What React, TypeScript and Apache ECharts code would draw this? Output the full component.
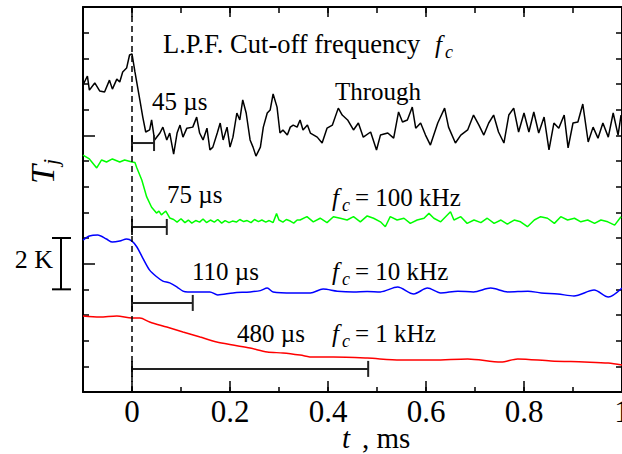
import React, { useEffect, useRef } from 'react';
import * as echarts from 'echarts';

// Junction temperature response T_j (K) vs time t (ms), for different L.P.F. cut-off frequencies
const throughData: [number, number][] = [
  [-0.1, 11.96], [-0.091, 12.31], [-0.087, 11.76], [-0.076, 12.04], [-0.066, 11.73], [-0.056, 11.69],
  [-0.046, 12.15], [-0.04, 11.8], [-0.031, 12.19], [-0.025, 12.08], [-0.019, 12.47], [-0.011, 12.62],
  [-0.005, 13.13], [0.0, 13.17], [0.006, 12.47], [0.016, 11.38], [0.022, 10.71], [0.028, 10.13],
  [0.036, 10.21], [0.04, 10.6], [0.046, 9.82], [0.057, 10.09], [0.063, 10.32], [0.071, 9.82],
  [0.077, 10.09], [0.085, 9.27], [0.092, 10.09], [0.098, 10.4], [0.104, 9.93], [0.112, 10.28],
  [0.124, 10.32], [0.132, 10.71], [0.138, 10.09], [0.145, 9.82], [0.153, 10.28], [0.159, 9.43],
  [0.165, 9.54], [0.174, 10.09], [0.18, 10.48], [0.186, 9.82], [0.194, 10.32], [0.2, 9.54],
  [0.206, 9.93], [0.214, 10.87], [0.22, 10.6], [0.226, 11.38], [0.233, 10.87], [0.241, 9.82],
  [0.247, 9.54], [0.253, 9.19], [0.262, 9.54], [0.268, 10.32], [0.276, 10.87], [0.282, 10.99],
  [0.288, 11.61], [0.296, 11.1], [0.302, 10.09], [0.308, 10.21], [0.317, 10.01], [0.323, 10.32],
  [0.329, 10.4], [0.337, 10.32], [0.343, 10.6], [0.349, 10.21], [0.358, 10.4], [0.364, 10.09],
  [0.378, 9.93], [0.388, 9.7], [0.398, 10.28], [0.409, 10.4], [0.421, 11.06], [0.429, 10.79],
  [0.44, 10.6], [0.452, 10.21], [0.462, 10.48], [0.472, 9.93], [0.487, 10.13], [0.499, 9.43],
  [0.507, 10.01], [0.522, 10.09], [0.534, 9.89], [0.544, 10.91], [0.552, 10.52], [0.562, 10.6],
  [0.572, 11.1], [0.579, 10.28], [0.589, 10.48], [0.599, 10.01], [0.609, 9.62], [0.624, 10.48],
  [0.638, 11.06], [0.646, 10.32], [0.66, 9.7], [0.671, 10.01], [0.685, 10.21], [0.697, 10.79],
  [0.708, 10.4], [0.718, 10.01], [0.728, 10.48], [0.738, 10.79], [0.748, 10.13], [0.759, 9.7],
  [0.769, 10.79], [0.779, 11.06], [0.789, 10.13], [0.8, 10.87], [0.81, 10.13], [0.82, 10.91],
  [0.83, 10.09], [0.841, 10.71], [0.851, 9.43], [0.861, 10.48], [0.871, 10.28], [0.882, 10.79],
  [0.89, 9.51], [0.9, 10.48], [0.91, 10.52], [0.92, 11.22], [0.931, 9.74], [0.941, 10.32],
  [0.951, 9.89], [0.961, 10.48], [0.972, 9.93], [0.982, 10.87], [0.992, 10.01], [0.998, 10.79],
];

const fc100kData: [number, number][] = [
  [-0.1, 9.23], [-0.087, 9.08], [-0.072, 8.73], [-0.062, 9.04], [-0.052, 8.96], [-0.04, 9.08],
  [-0.025, 8.96], [-0.015, 9.04], [0.0, 8.96], [0.006, 8.94], [0.01, 8.73], [0.02, 8.26],
  [0.03, 7.6], [0.04, 7.2], [0.05, 6.97], [0.055, 7.05], [0.06, 6.9], [0.069, 7.05], [0.077, 6.78],
  [0.085, 6.72], [0.092, 6.62], [0.1, 6.75], [0.108, 6.6], [0.115, 6.7], [0.122, 6.58], [0.13, 6.68],
  [0.138, 6.62], [0.145, 6.74], [0.152, 6.6], [0.16, 6.7], [0.168, 6.62], [0.175, 6.72], [0.183, 6.58],
  [0.19, 6.68], [0.198, 6.6], [0.205, 6.66], [0.213, 6.62], [0.22, 6.72], [0.228, 6.64], [0.235, 6.68],
  [0.243, 6.6], [0.25, 6.72], [0.258, 6.64], [0.265, 6.7], [0.273, 6.62], [0.28, 6.68], [0.288, 6.6],
  [0.295, 6.95], [0.3, 6.7], [0.308, 6.62], [0.315, 6.72], [0.323, 6.66], [0.33, 6.58], [0.337, 6.7],
  [0.343, 6.7], [0.357, 6.83], [0.37, 6.63], [0.384, 6.77], [0.398, 6.6], [0.411, 6.83], [0.425, 6.77],
  [0.439, 6.7], [0.452, 6.83], [0.466, 6.63], [0.48, 6.86], [0.493, 6.77], [0.507, 6.63], [0.517, 6.44],
  [0.527, 6.83], [0.541, 6.7], [0.555, 6.77], [0.568, 6.57], [0.582, 6.7], [0.596, 6.77], [0.606, 6.96],
  [0.616, 6.77], [0.63, 6.63], [0.65, 7.02], [0.657, 6.7], [0.671, 6.83], [0.684, 6.57], [0.698, 6.7],
  [0.712, 6.6], [0.725, 6.77], [0.739, 6.57], [0.753, 6.7], [0.766, 6.54], [0.78, 6.7], [0.793, 6.63],
  [0.807, 6.44], [0.821, 6.7], [0.834, 6.83], [0.848, 6.77], [0.862, 6.57], [0.875, 6.83], [0.889, 6.7],
  [0.903, 6.77], [0.916, 6.63], [0.93, 6.7], [0.944, 6.57], [0.957, 6.7], [0.971, 6.63], [0.985, 6.5],
  [0.998, 6.83],
];

const fc10kData: [number, number][] = [
  [-0.1, 5.92], [-0.087, 6.08], [-0.07, 6.12], [-0.052, 5.96], [-0.04, 5.84], [-0.025, 5.88],
  [-0.011, 5.96], [0.0, 5.88], [0.01, 5.65], [0.022, 5.22], [0.036, 4.75], [0.051, 4.48],
  [0.063, 4.32], [0.077, 4.25], [0.092, 4.09], [0.104, 3.93], [0.114, 3.9], [0.139, 3.9],
  [0.159, 3.9], [0.175, 3.78], [0.206, 3.86], [0.241, 3.9], [0.262, 3.95], [0.276, 4.05],
  [0.288, 3.9], [0.329, 3.86], [0.364, 3.86], [0.39, 4.01], [0.419, 3.93], [0.452, 3.9],
  [0.48, 3.92], [0.507, 3.9], [0.542, 4.09], [0.575, 3.82], [0.603, 4.05], [0.63, 3.86],
  [0.665, 3.93], [0.697, 3.9], [0.732, 4.05], [0.767, 3.9], [0.808, 3.93], [0.835, 3.86],
  [0.869, 3.82], [0.902, 3.74], [0.943, 3.97], [0.972, 3.7], [1.0, 4.05],
];

const fc1kData: [number, number][] = [
  [-0.1, 2.96], [-0.066, 2.92], [-0.031, 2.96], [0.0, 2.88], [0.016, 2.88], [0.036, 2.73],
  [0.071, 2.53], [0.104, 2.34], [0.139, 2.14], [0.173, 1.95], [0.206, 1.83], [0.241, 1.71],
  [0.276, 1.56], [0.308, 1.52], [0.343, 1.44], [0.37, 1.36], [0.411, 1.36], [0.48, 1.32],
  [0.548, 1.25], [0.616, 1.25], [0.685, 1.29], [0.753, 1.17], [0.787, 1.29], [0.855, 1.21],
  [0.923, 1.17], [0.972, 1.13], [1.0, 1.05],
];

// delay bars: [start ms, end ms, level K]
const delayBars: [number, number, number][] = [
  [0, 0.045, 9.7],
  [0, 0.071, 6.43],
  [0, 0.124, 3.47],
  [0, 0.482, 0.9],
];

const majorTicks = [0, 0.2, 0.4, 0.6, 0.8, 1];
const scaleBarK: [number, number] = [4, 6];

const FONT = '"Liberation Serif", "Times New Roman", serif';
const ANN = 25;

function txt(text: string, x: number, baseline: number, size = ANN, italic = false, align = 'left') {
  return {
    type: 'text',
    silent: true,
    style: {
      text,
      x,
      y: baseline - 0.3375 * size,
      fill: '#000',
      fontSize: size,
      fontFamily: FONT,
      fontStyle: italic ? 'italic' : 'normal',
      align,
      verticalAlign: 'middle',
    },
  };
}

function fcLabel(rest: string, baseline: number) {
  return [
    txt('f', 332, baseline, ANN, true),
    txt('c', 342, baseline + 5, 18, true),
    txt(rest, 355, baseline),
  ];
}

export default function App() {
  const ref = useRef<HTMLDivElement>(null);

  useEffect(() => {
    document.body.style.margin = '0';
    if (!ref.current) return;
    const chart = echarts.init(ref.current, undefined, { renderer: 'svg' });
    const axisColor = '#000';
    const tickStyle = { color: axisColor, width: 1.5 };

    const lineSeries = (name: string, data: [number, number][], color: string, smooth: number | boolean = false) => ({
      name,
      type: 'line',
      data,
      showSymbol: false,
      symbol: 'none',
      smooth,
      lineStyle: { color, width: 1.5 },
      z: 3,
    });

    chart.setOption({
      animation: false,
      grid: { left: 83, right: 0, top: 7, bottom: 62, containLabel: false, outerBoundsMode: 'none' },
      xAxis: [
        {
          type: 'value', min: -0.1, max: 1, interval: 0.1, position: 'bottom',
          axisLine: { show: true, onZero: false, lineStyle: { color: axisColor, width: 2 } },
          axisTick: { show: true, inside: true, length: 5, lineStyle: tickStyle },
          axisLabel: { show: false }, splitLine: { show: false },
        },
        {
          type: 'value', min: -0.1, max: 1, position: 'bottom',
          axisLine: { show: false, onZero: false },
          axisTick: { show: true, inside: true, length: 11, customValues: majorTicks, lineStyle: tickStyle },
          axisLabel: {
            show: true, customValues: majorTicks, fontFamily: FONT, fontSize: 31, color: '#000', margin: 4,
            hideOverlap: false,
            formatter: (v: number) => String(Math.round(v * 10) / 10),
          },
          splitLine: { show: false },
        },
        {
          type: 'value', min: -0.1, max: 1, interval: 0.1, position: 'top',
          axisLine: { show: true, onZero: false, lineStyle: { color: axisColor, width: 2 } },
          axisTick: { show: true, inside: true, length: 6, lineStyle: tickStyle },
          axisLabel: { show: false }, splitLine: { show: false },
        },
        {
          type: 'value', min: -0.1, max: 1, position: 'top',
          axisLine: { show: false, onZero: false },
          axisTick: { show: true, inside: true, length: 10, customValues: majorTicks, lineStyle: tickStyle },
          axisLabel: { show: false }, splitLine: { show: false },
        },
      ],
      yAxis: [
        {
          type: 'value', min: 0, max: 15, interval: 5, position: 'left',
          axisLine: { show: true, onZero: false, lineStyle: { color: axisColor, width: 2 } },
          axisTick: { show: true, inside: true, length: 12, lineStyle: tickStyle },
          minorTick: { show: true, splitNumber: 5, length: 6, lineStyle: tickStyle },
          axisLabel: { show: false }, splitLine: { show: false }, minorSplitLine: { show: false },
        },
        {
          type: 'value', min: 0, max: 15, interval: 1, position: 'right',
          axisLine: { show: true, onZero: false, lineStyle: { color: axisColor, width: 2 } },
          axisTick: { show: true, inside: true, length: 6, lineStyle: tickStyle },
          axisLabel: { show: false }, splitLine: { show: false },
        },
      ],
      series: [
        {
          ...lineSeries('Through', throughData, '#000000'),
          markLine: {
            silent: true,
            symbol: ['none', 'none'],
            label: { show: false },
            lineStyle: { type: [6, 4], color: '#000', width: 1.5 },
            data: [{ xAxis: 0 }],
          },
        },
        lineSeries('fc = 100 kHz', fc100kData, '#00ff00'),
        lineSeries('fc = 10 kHz', fc10kData, '#0000ff', 0.3),
        lineSeries('fc = 1 kHz', fc1kData, '#ff0000', 0.3),
        {
          type: 'custom',
          name: 'delay',
          data: delayBars,
          encode: { x: [0, 1], y: 2 },
          z: 4,
          renderItem: (_params: any, api: any) => {
            const p0 = api.coord([api.value(0), api.value(2)]);
            const p1 = api.coord([api.value(1), api.value(2)]);
            const h = 8;
            const st = { stroke: '#222', lineWidth: 2 };
            return {
              type: 'group',
              children: [
                { type: 'line', shape: { x1: p0[0], y1: p0[1], x2: p1[0], y2: p1[1] }, style: st },
                { type: 'line', shape: { x1: p0[0], y1: p0[1] - h, x2: p0[0], y2: p0[1] + h }, style: st },
                { type: 'line', shape: { x1: p1[0], y1: p1[1] - h, x2: p1[0], y2: p1[1] + h }, style: st },
              ],
            };
          },
        },
      ],
    });

    const yTop = chart.convertToPixel({ yAxisIndex: 0 }, scaleBarK[1]) as number;
    const yBot = chart.convertToPixel({ yAxisIndex: 0 }, scaleBarK[0]) as number;
    const sb = { stroke: '#000', lineWidth: 2 };

    chart.setOption({
      graphic: [
        // scale bar 2 K
        { type: 'line', silent: true, shape: { x1: 61, y1: yTop, x2: 61, y2: yBot }, style: sb },
        { type: 'line', silent: true, shape: { x1: 52, y1: yTop, x2: 71, y2: yTop }, style: sb },
        { type: 'line', silent: true, shape: { x1: 52, y1: yBot, x2: 71, y2: yBot }, style: sb },
        txt('2 K', 53, (yTop + yBot) / 2 + 5, 26, false, 'right'),
        // axis title T_j (rotated)
        {
          type: 'group', x: 42, y: 184, rotation: Math.PI / 2, silent: true,
          children: [
            { type: 'text', style: { text: 'T', x: 0, y: 0, fill: '#000', fontSize: 34, fontFamily: FONT, fontStyle: 'italic', align: 'left', verticalAlign: 'middle' } },
            { type: 'text', style: { text: 'j', x: 19, y: 8, fill: '#000', fontSize: 22, fontFamily: FONT, fontStyle: 'italic', align: 'left', verticalAlign: 'middle' } },
          ],
        },
        // x axis title
        txt('t', 342, 448, 29, true),
        txt(', ms', 362, 448, 29),
        // annotations
        txt('L.P.F. Cut-off frequency', 163, 53, 26.5),
        txt('f', 435, 53, ANN, true),
        txt('c', 445, 58, 18, true),
        txt('Through', 335, 100),
        txt('45 µs', 152, 110),
        txt('75 µs', 167, 203),
        ...fcLabel('= 100 kHz', 206),
        txt('110 µs', 192, 280),
        ...fcLabel('= 10 kHz', 280),
        txt('480 µs', 237, 342),
        ...fcLabel('= 1 kHz', 342),
      ],
    });

    return () => chart.dispose();
  }, []);

  return <div ref={ref} style={{ width: 622, height: 454 }} />;
}
